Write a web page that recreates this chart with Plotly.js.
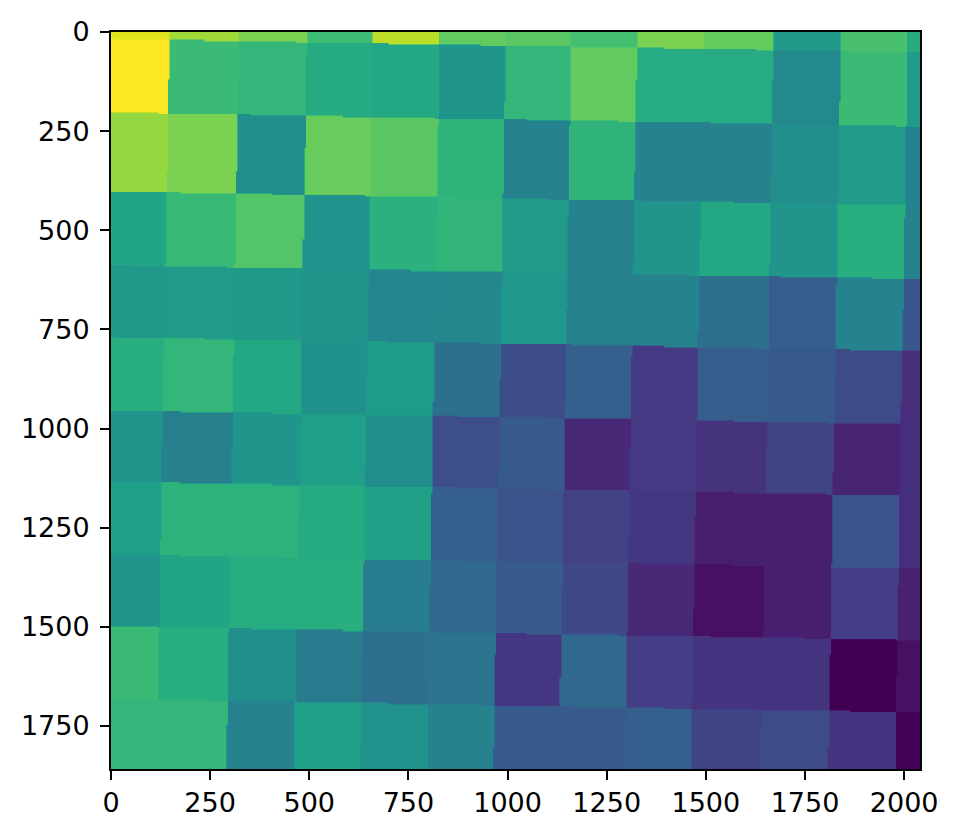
<!DOCTYPE html>
<html>
<head>
<meta charset="utf-8">
<script src="https://cdn.plot.ly/plotly-3.0.1.min.js"></script>
<style>html,body{margin:0;padding:0;background:#fff}#chart{width:960px;height:837px}</style>
</head>
<body>
<div id="chart"></div>
<script>
var xTicks = [0,250,500,750,1000,1250,1500,1750,2000];
var yTicks = [0,250,500,750,1000,1250,1500,1750];
var columnEdges = [146,322,493,659,828,995,1160,1326,1493,1670,1839,2008];
var rowEdges = [16,202,401,587,768,953,1133,1317,1498,1680];
var skew = 0.0172;
var row0  = [0.95,0.86,0.80,0.69,0.90,0.76,0.745,0.70,0.80,0.765,0.53,0.71,0.61];
var row1  = [1.00,0.68,0.66,0.61,0.595,0.52,0.66,0.76,0.615,0.615,0.47,0.68,0.55];
var row2  = [0.84,0.80,0.49,0.77,0.745,0.65,0.44,0.65,0.44,0.44,0.495,0.545,0.44];
var row3  = [0.585,0.675,0.73,0.505,0.635,0.655,0.545,0.44,0.515,0.60,0.515,0.63,0.445];
var row4  = [0.53,0.545,0.53,0.51,0.45,0.46,0.525,0.435,0.44,0.37,0.29,0.44,0.27];
var row5  = [0.625,0.66,0.60,0.50,0.55,0.37,0.235,0.30,0.17,0.29,0.28,0.23,0.125];
var row6  = [0.51,0.43,0.52,0.56,0.49,0.24,0.28,0.115,0.165,0.145,0.20,0.10,0.14];
var row7  = [0.56,0.645,0.64,0.61,0.57,0.30,0.25,0.19,0.16,0.08,0.085,0.26,0.125];
var row8  = [0.52,0.585,0.62,0.63,0.42,0.335,0.285,0.215,0.115,0.04,0.085,0.18,0.09];
var row9  = [0.68,0.625,0.49,0.415,0.36,0.38,0.16,0.335,0.18,0.15,0.15,0.00,0.04];
var row10 = [0.66,0.66,0.44,0.57,0.505,0.445,0.285,0.285,0.30,0.20,0.23,0.15,0.005];
var rows = [row0,row1,row2,row3,row4,row5,row6,row7,row8,row9,row10];

function cellIndex(edges, p){ var i=0; while(i<edges.length && p>=edges[i]) i++; return i; }
var step = 4, xs = [], ys = [], z = [];
for (var x=0; x<=2044; x+=step) xs.push(x);
for (var y=0; y<=1864; y+=step) ys.push(y);
ys.forEach(function(py){
  z.push(xs.map(function(px){
    return rows[cellIndex(rowEdges, py - skew*px)][cellIndex(columnEdges, px + skew*py)];
  }));
});
var axisBase = {
  showgrid:false, zeroline:false, showline:true, mirror:true, linecolor:'#000', linewidth:2,
  ticks:'outside', ticklen:9, tickwidth:2, tickcolor:'#000', tickmode:'array',
  tickfont:{family:'DejaVu Sans', size:27, color:'#000'}
};
var data = [{type:'heatmap', x:xs, y:ys, z:z, colorscale:'Viridis', zmin:0, zmax:1, zsmooth:'best', showscale:false, hoverinfo:'skip'}];
var layout = {
  width:960, height:837, margin:{l:111,r:40,t:32,b:68,pad:0}, paper_bgcolor:'#fff', plot_bgcolor:'#fff', showlegend:false,
  xaxis:Object.assign({}, axisBase, {range:[0,2040], tickvals:xTicks, ticktext:xTicks.map(String)}),
  yaxis:Object.assign({}, axisBase, {range:[1858.6,0], tickvals:yTicks, ticktext:yTicks.map(String), ticklabelstandoff:5})
};
Plotly.newPlot('chart', data, layout, {displayModeBar:false, staticPlot:true});
</script>
</body>
</html>
